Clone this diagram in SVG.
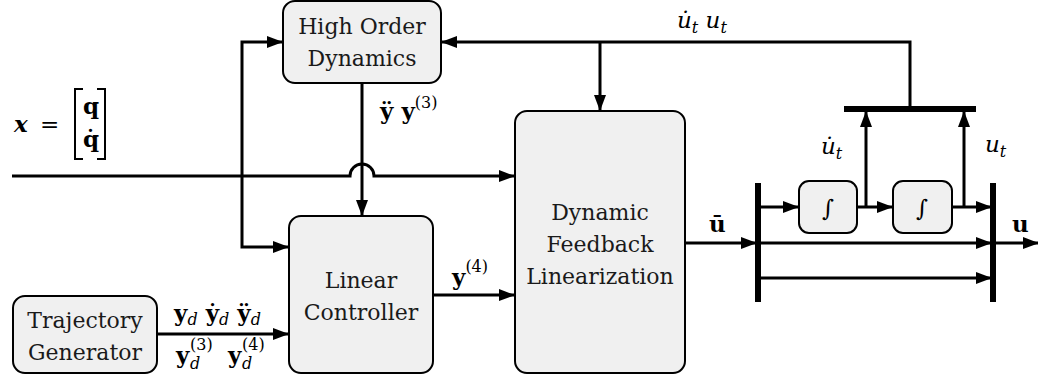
<svg xmlns="http://www.w3.org/2000/svg" width="1038" height="380" viewBox="0 0 1038 380">
<defs>
<marker id="ah" markerWidth="16" markerHeight="12" refX="15" refY="6" orient="auto" markerUnits="userSpaceOnUse">
<path d="M0,0 L16,6 L0,12 Z" fill="#000"/>
</marker>
<style>
.box{fill:#f0f0f0;stroke:#000;stroke-width:2}
.lbl{font-family:'DejaVu Serif','Liberation Serif',serif;font-size:22px;fill:#1a1a1a;text-anchor:middle}
.m{font-family:'DejaVu Serif','Liberation Serif',serif;font-size:23px;fill:#000}
.b{font-weight:bold}
.i{font-style:italic}
.s{font-size:16px}
.a{fill:none;stroke:#000;stroke-width:3;marker-end:url(#ah)}
.bar{stroke:#000;stroke-width:6}
.br{fill:none;stroke:#000;stroke-width:2}
</style>
</defs>
<rect width="1038" height="380" fill="#fff"/>

<g id="connectors">
<polyline class="a" points="910,109 910,42 442,42"/>
<line class="a" x1="600" y1="42" x2="600" y2="110"/>
<polyline class="a" points="242,176 242,42 282,42"/>
<polyline class="a" points="242,176 242,247 288,247"/>
<line class="a" x1="362" y1="84" x2="362" y2="215"/>
<path class="a" d="M12,176 L350,176 A12,12 0 0 1 374,176 L514,176"/>
<line class="a" x1="434" y1="295" x2="514" y2="295"/>
<line class="a" x1="158" y1="334" x2="288" y2="334"/>
<line class="a" x1="686" y1="243" x2="756" y2="243"/>
<line class="bar" x1="758" y1="183" x2="758" y2="302"/>
<line class="bar" x1="993" y1="183" x2="993" y2="302"/>
<line class="bar" x1="844" y1="109" x2="976" y2="109"/>
<line class="a" x1="758" y1="207" x2="798" y2="207"/>
<line class="a" x1="857" y1="207" x2="892" y2="207"/>
<line class="a" x1="952" y1="207" x2="991" y2="207"/>
<line class="a" x1="866" y1="207" x2="866" y2="112"/>
<line class="a" x1="964" y1="207" x2="964" y2="112"/>
<line class="a" x1="758" y1="243" x2="991" y2="243"/>
<line class="a" x1="758" y1="278" x2="991" y2="278"/>
<line class="a" x1="993" y1="243" x2="1038" y2="243"/>
</g>

<g id="hod">
<rect class="box" x="283" y="1" width="158" height="82" rx="12"/>
<text class="lbl" x="362" y="34">High Order</text>
<text class="lbl" x="362" y="66">Dynamics</text>
</g>
<g id="linear-controller">
<rect class="box" x="289" y="216" width="144" height="157" rx="12"/>
<text class="lbl" x="361" y="288">Linear</text>
<text class="lbl" x="361" y="320">Controller</text>
</g>
<g id="dfl">
<rect class="box" x="515" y="111" width="170" height="262" rx="12"/>
<text class="lbl" x="600" y="220">Dynamic</text>
<text class="lbl" x="600" y="252">Feedback</text>
<text class="lbl" x="600" y="284">Linearization</text>
</g>
<g id="trajectory-generator">
<rect class="box" x="13" y="296" width="144" height="77" rx="12"/>
<text class="lbl" x="85" y="328">Trajectory</text>
<text class="lbl" x="85" y="360">Generator</text>
</g>
<g id="int1">
<rect class="box" x="799" y="181" width="58" height="52" rx="10"/>
<text class="m i" x="828" y="216" text-anchor="middle">∫</text>
</g>
<g id="int2">
<rect class="box" x="893" y="181" width="59" height="52" rx="10"/>
<text class="m i" x="922" y="216" text-anchor="middle">∫</text>
</g>

<g id="labels">
<text class="m b i" x="14" y="132">x</text>
<text class="m" x="40" y="132">=</text>
<polyline class="br" points="83,89 75,89 75,159 83,159"/>
<polyline class="br" points="97,89 105,89 105,159 97,159"/>
<text class="m b" x="83" y="114">q</text>
<text class="m b" x="83" y="147">q&#x307;</text>

<text class="m b" x="380" y="119">ÿ <tspan>y</tspan><tspan class="s" dy="-11" font-weight="normal">(3)</tspan></text>
<text class="m i" x="677" y="28">u&#x307;<tspan class="s" dy="5">t</tspan><tspan dy="-5"> u</tspan><tspan class="s" dy="5">t</tspan></text>
<text class="m i" x="821" y="154">u&#x307;<tspan class="s" dy="5">t</tspan></text>
<text class="m i" x="985" y="152">u<tspan class="s" dy="5">t</tspan></text>
<text class="m b" x="709" y="232">ū</text>
<text class="m b" x="1012" y="232">u</text>
<text class="m b" x="452" y="285">y<tspan class="s" dy="-13" font-weight="normal">(4)</tspan></text>
<text class="m b" x="174" y="321">y<tspan class="s i" dy="4" font-weight="normal">d</tspan><tspan dy="-4"> ẏ</tspan><tspan class="s i" dy="4" font-weight="normal">d</tspan><tspan dy="-4"> ÿ</tspan><tspan class="s i" dy="4" font-weight="normal">d</tspan></text>
<text class="m b" x="176" y="363">y</text>
<text class="m s" x="190" y="350">(3)</text>
<text class="m s i" x="190" y="369">d</text>
<text class="m b" x="228" y="363">y</text>
<text class="m s" x="242" y="350">(4)</text>
<text class="m s i" x="242" y="369">d</text>
</g>
</svg>
